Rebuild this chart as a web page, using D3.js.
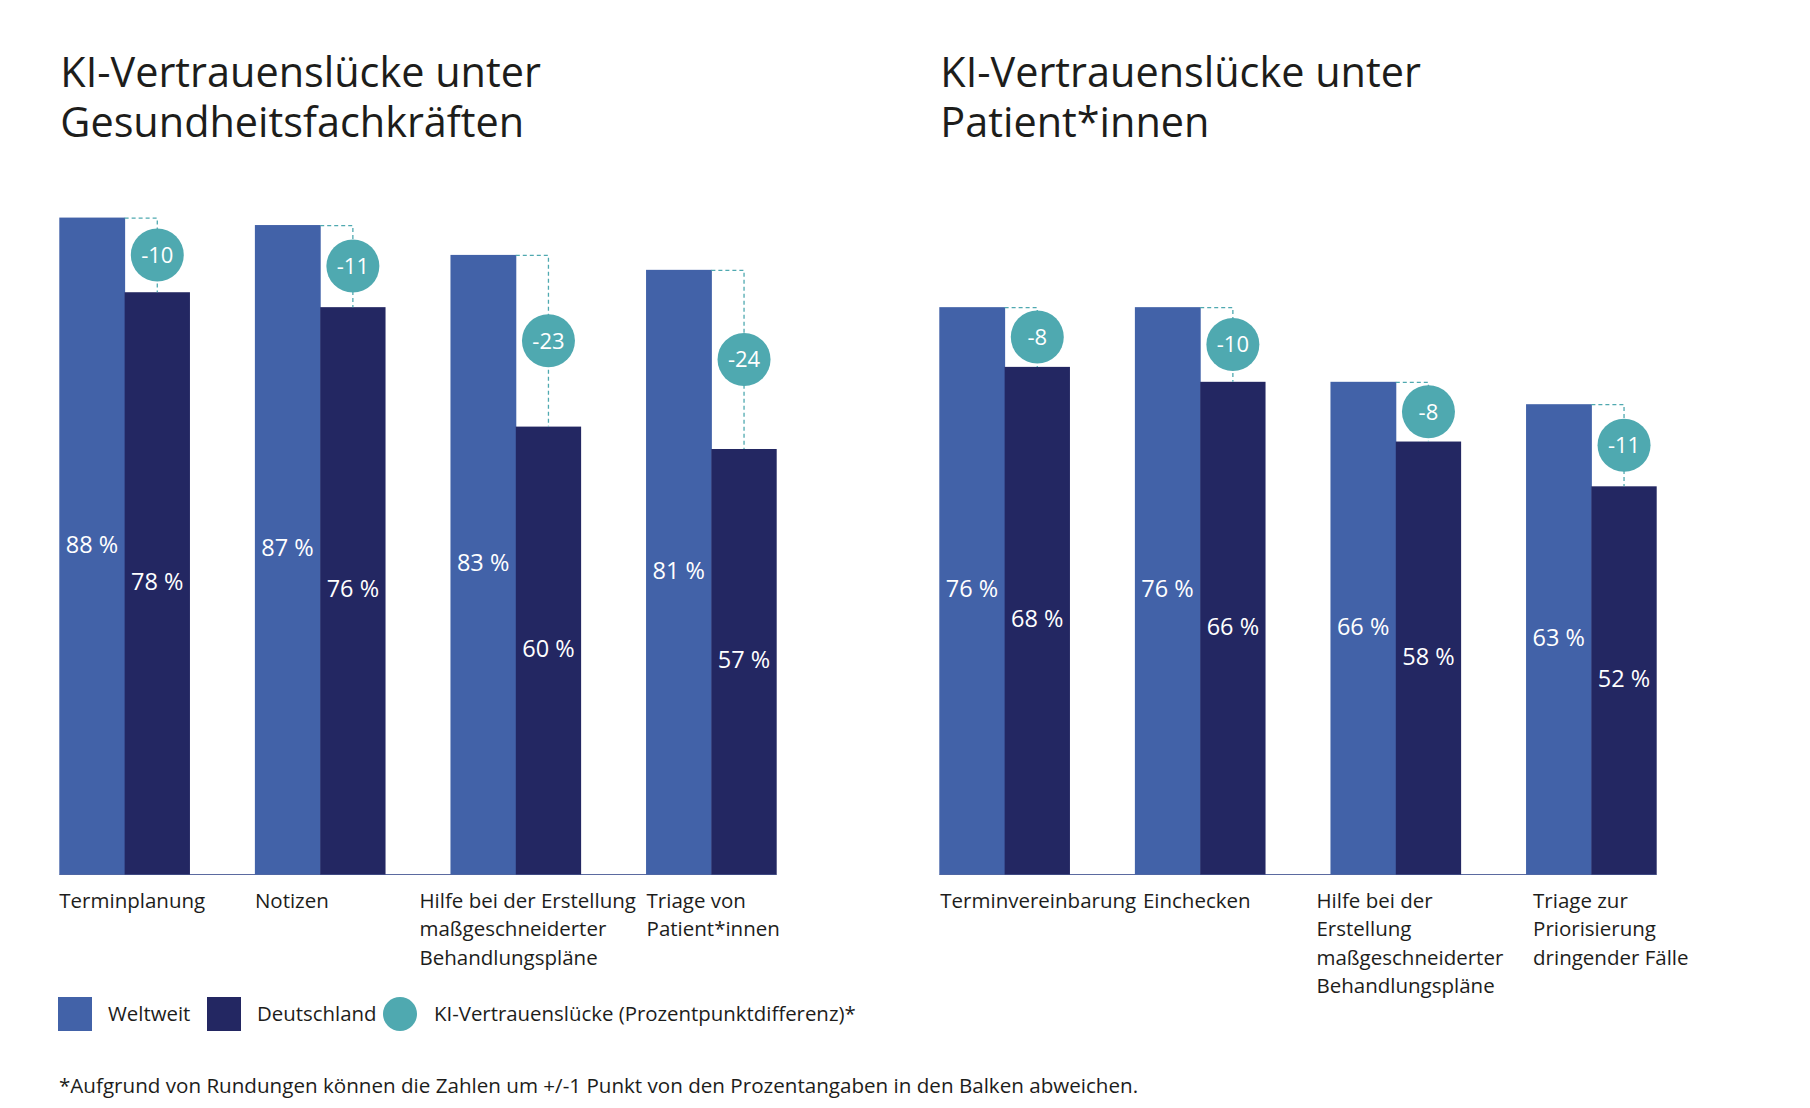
<!DOCTYPE html>
<html><head><meta charset="utf-8">
<script src="https://cdn.jsdelivr.net/npm/d3@7"></script>
<style>
body{margin:0;background:#fff}
svg{display:block;font-family:"Open Sans",sans-serif}
</style>
</head><body>
<script>
// ---------- data ----------
const titleLeft = ["KI-Vertrauenslücke unter", "Gesundheitsfachkräften"];
const titleRight = ["KI-Vertrauenslücke unter", "Patient*innen"];
const categoriesLeft = [["Terminplanung"], ["Notizen"], ["Hilfe bei der Erstellung", "maßgeschneiderter", "Behandlungspläne"], ["Triage von", "Patient*innen"]];
const categoriesRight = [["Terminvereinbarung"], ["Einchecken"], ["Hilfe bei der", "Erstellung", "maßgeschneiderter", "Behandlungspläne"], ["Triage zur", "Priorisierung", "dringender Fälle"]];
const weltweitLeft = [88, 87, 83, 81];
const deutschlandLeft = [78, 76, 60, 57];
const gapLeft = [-10, -11, -23, -24];
const weltweitRight = [76, 76, 66, 63];
const deutschlandRight = [68, 66, 58, 52];
const gapRight = [-8, -10, -8, -11];
const seriesNames = ["Weltweit", "Deutschland"];
const gapLegend = "KI-Vertrauenslücke (Prozentpunktdifferenz)*";
const footnote = "*Aufgrund von Rundungen können die Zahlen um +/-1 Punkt von den Prozentangaben in den Balken abweichen.";

// ---------- layout / style ----------
const W = 1810, H = 1108;
const colW = "#4262a8", colD = "#232762", colGap = "#4fa9b0", txt = "#1d1d1b";
const svg = d3.select("body").append("svg").attr("width", W).attr("height", H);
const y = d3.scaleLinear().domain([0, 100]).range([874.5, 128]);

function panel(x0, x1, title, cats, wv, dv, gv, labelShift) {
  const g = svg.append("g");
  const ids = cats.map((c, i) => i);
  const x = d3.scaleBand().domain(ids).range([x0, x1]).paddingInner(0.332).paddingOuter(0);
  const xi = d3.scaleBand().domain(seriesNames).range([0, x.bandwidth()]);
  const bw = xi.bandwidth();

  // title (one text element per line)
  title.forEach((l, i) => g.append("text").attr("x", x0 + 1).attr("y", 86.5 + i * 50)
    .attr("font-size", 41.4).attr("fill", txt).text(l));

  // axis baseline
  g.append("line").attr("x1", x0).attr("x2", x1).attr("y1", y(0)).attr("y2", y(0))
    .attr("stroke", "#5b6aa0").attr("stroke-width", 1.2);

  ids.forEach(i => {
    const vals = [wv[i], dv[i]];
    const cols = [colW, colD];
    seriesNames.forEach((s, k) => {
      const bx = x(i) + xi(s);
      g.append("rect").attr("x", bx).attr("y", y(vals[k])).attr("width", bw + (k === 0 ? 0.5 : 0))
        .attr("height", y(0) - y(vals[k])).attr("fill", cols[k]);
      g.append("text").attr("x", bx + bw / 2).attr("y", (y(vals[k]) + y(0)) / 2 + 6.5)
        .attr("text-anchor", "middle").attr("font-size", 23.5).attr("fill", "#fff").text(vals[k] + " %");
    });
    // gap connector
    const xe = x(i) + xi("Deutschland");
    const cx = xe + bw / 2;
    g.append("path").attr("d", `M${xe},${y(wv[i]) + 0.5}H${cx}V${y(dv[i])}`)
      .attr("fill", "none").attr("stroke", colGap).attr("stroke-width", 1.3).attr("stroke-dasharray", "4,3");
    const cy = (y(wv[i]) + y(dv[i])) / 2;
    g.append("circle").attr("cx", cx).attr("cy", cy).attr("r", 26.5).attr("fill", colGap);
    g.append("text").attr("x", cx).attr("y", cy + 8).attr("text-anchor", "middle")
      .attr("font-size", 22).attr("fill", "#fff").text(gv[i]);
    // category label
    const lt = g.append("text").attr("y", 908).attr("font-size", 20.5).attr("fill", txt);
    cats[i].forEach((l, j) => lt.append("tspan").attr("x", x(i) + labelShift[i]).attr("dy", j ? 28.3 : 0).text(l));
  });
}

panel(59.3, 776.7, titleLeft, categoriesLeft, weltweitLeft, deutschlandLeft, gapLeft, [0, 0, -31, 0.5]);
panel(939.3, 1656.7, titleRight, categoriesRight, weltweitRight, deutschlandRight, gapRight, [1, 8, -14, 7]);

// legend
const lg = svg.append("g");
lg.append("rect").attr("x", 58).attr("y", 997).attr("width", 34).attr("height", 34).attr("fill", colW);
lg.append("text").attr("x", 108).attr("y", 1021).attr("font-size", 20.4).attr("fill", txt).text(seriesNames[0]);
lg.append("rect").attr("x", 207).attr("y", 997).attr("width", 34).attr("height", 34).attr("fill", colD);
lg.append("text").attr("x", 257).attr("y", 1021).attr("font-size", 20.4).attr("fill", txt).text(seriesNames[1]);
lg.append("circle").attr("cx", 400).attr("cy", 1014).attr("r", 17).attr("fill", colGap);
lg.append("text").attr("x", 434).attr("y", 1021).attr("font-size", 20.4).attr("fill", txt).text(gapLegend);

svg.append("text").attr("x", 59).attr("y", 1093).attr("font-size", 20.6).attr("fill", txt).text(footnote);
</script>
</body></html>
